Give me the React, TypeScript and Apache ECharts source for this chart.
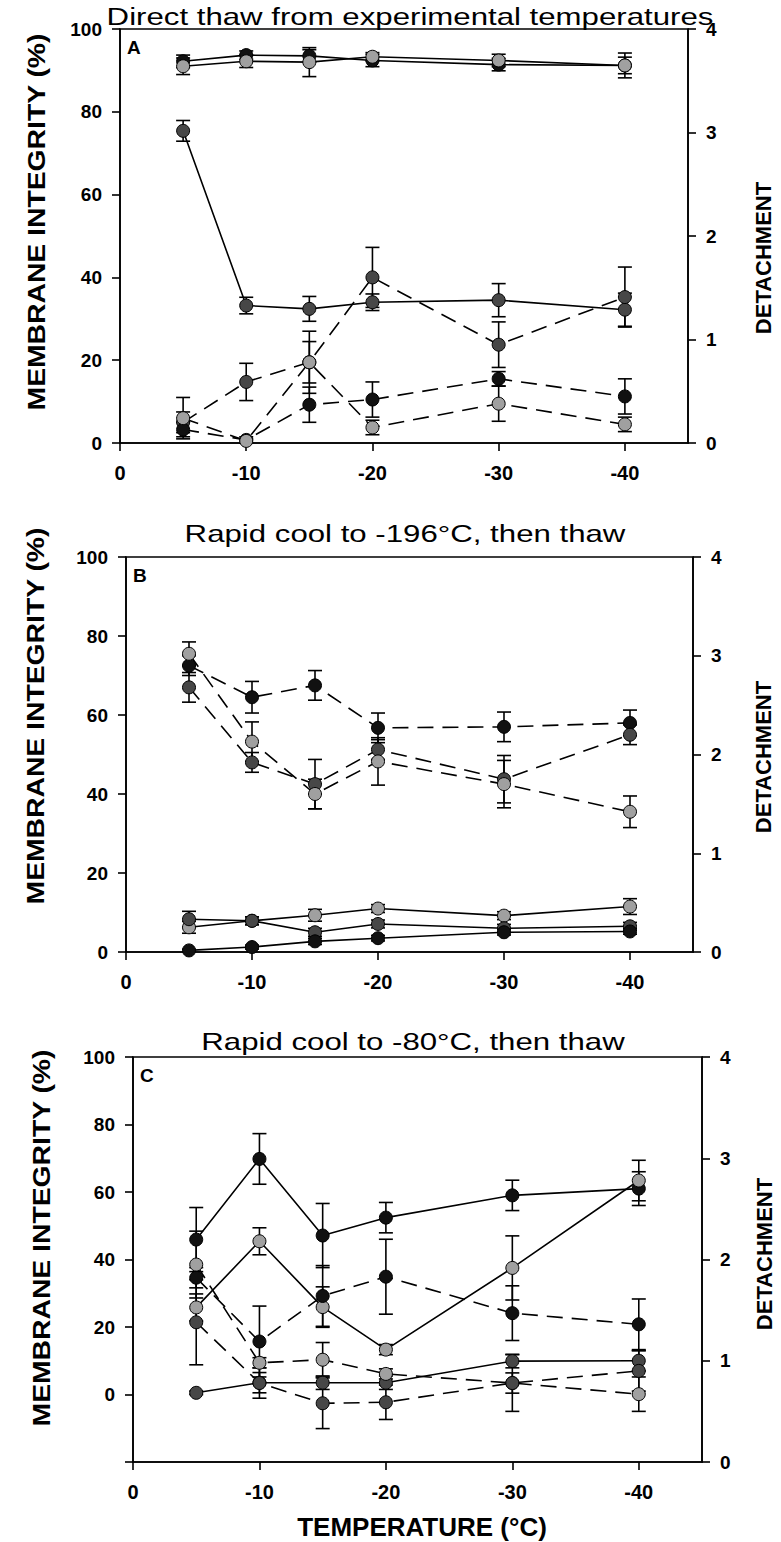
import React, { useEffect, useRef } from "react";
import * as echarts from "echarts";

// ---------- data ----------
const temps = [-5, -10, -15, -20, -30, -40];
const xTicks = [0, -10, -20, -30, -40];

// Panel A – direct thaw from experimental temperatures
const aIntBlack = [92.2, 93.7, 93.5, 92.4, 91.4, 91.2];
const aIntBlackErr = [1.5, 1, 1.5, 1.5, 1.5, 3];
const aIntGrey = [91, 92.2, 92, 93.3, 92.4, 91.2];
const aIntGreyErr = [2, 1.5, 3.5, 1, 1.5, 2];
const aIntDark = [75.4, 33.2, 32.4, 34, 34.5, 32.2];
const aIntDarkErr = [2.5, 2, 3, 2, 4, 4];
const aDetDark = [0.2, 0.59, 0.78, 1.6, 0.95, 1.41];
const aDetDarkErr = [0.1, 0.18, 0.2, 0.29, 0.22, 0.29];
const aDetBlack = [0.13, 0.03, 0.37, 0.42, 0.62, 0.45];
const aDetBlackErr = [0.07, 0.03, 0.17, 0.17, 0.07, 0.17];
const aDetGrey = [0.24, 0.02, 0.78, 0.15, 0.38, 0.18];
const aDetGreyErr = [0.2, 0.02, 0.3, 0.07, 0.17, 0.07];

// Panel B – rapid cool to -196 °C, then thaw
const bIntGrey = [6.25, 7.9, 9.3, 11, 9.2, 11.5];
const bIntGreyErr = [1.5, 1, 1.5, 1, 1, 2];
const bIntDark = [8.3, 7.9, 5, 7.1, 6, 6.5];
const bIntDarkErr = [2, 1, 1, 1, 1, 1];
const bIntBlack = [0.4, 1.25, 2.7, 3.5, 5, 5.2];
const bIntBlackErr = [0.3, 0.5, 0.8, 0.7, 0.7, 0.7];
const bDetBlack = [2.9, 2.58, 2.7, 2.27, 2.28, 2.32];
const bDetBlackErr = [0.1, 0.16, 0.15, 0.15, 0.15, 0.13];
const bDetDark = [2.68, 1.92, 1.7, 2.05, 1.75, 2.2];
const bDetDarkErr = [0.15, 0.1, 0.25, 0.1, 0.24, 0.1];
const bDetGrey = [3.02, 2.13, 1.6, 1.93, 1.7, 1.42];
const bDetGreyErr = [0.12, 0.2, 0.15, 0.24, 0.24, 0.16];

// Panel C – rapid cool to -80 °C, then thaw
const cIntBlack = [45.9, 69.8, 47.1, 52.4, 59, 61];
const cIntBlackErr = [9.5, 7.5, 9.5, 4.5, 4.5, 5];
const cIntGrey = [25.8, 45.4, 25.9, 13.3, 37.5, 63.4];
const cIntGreyErr = [4, 4, 6, 1.5, 9.5, 6];
const cIntDark = [0.5, 3.5, 3.5, 3.5, 9.9, 10];
const cIntDarkErr = [0.5, 3, 2, 2, 2, 3];
const cDetBlack = [1.82, 1.19, 1.64, 1.83, 1.47, 1.36];
const cDetBlackErr = [0.1, 0.35, 0.3, 0.37, 0.27, 0.25];
const cDetGrey = [1.95, 0.98, 1.01, 0.87, 0.78, 0.67];
const cDetGreyErr = [0.33, 0.05, 0.17, 0.05, 0.1, 0.17];
const cDetDark = [1.38, 0.78, 0.58, 0.59, 0.78, 0.9];
const cDetDarkErr = [0.42, 0.15, 0.25, 0.17, 0.28, 0.2];

// ---------- styling ----------
const FONT = '"Liberation Sans", Arial, Helvetica, sans-serif';
const BLACK = "#111111";
const DARK = "#474747";
const GREY = "#a0a0a0";

const GRIDS = [
  { left: 120, width: 568, top: 29, height: 414 },
  { left: 126, width: 567, top: 557, height: 395 },
  { left: 133, width: 569, top: 1057, height: 405 },
];

function lineSeries(ys: number[], xi: number, yi: number, color: string, dashed: boolean) {
  return {
    type: "line",
    xAxisIndex: xi,
    yAxisIndex: yi,
    data: temps.map((t, i) => [t, ys[i]]),
    symbol: "circle",
    symbolSize: 13,
    itemStyle: { color, borderColor: "#000", borderWidth: 1 },
    lineStyle: { color: "#000", width: 1.6, type: dashed ? [16, 9] : "solid" },
    z: 3,
    silent: true,
  };
}

function errSeries(ys: number[], es: number[], xi: number, yi: number) {
  return {
    type: "custom",
    xAxisIndex: xi,
    yAxisIndex: yi,
    data: temps.map((t, i) => [t, ys[i], es[i]]),
    encode: { x: 0, y: 1 },
    z: 2,
    silent: true,
    renderItem: (params: any, api: any) => {
      const x = api.value(0);
      const y = api.value(1);
      const e = api.value(2);
      const p1 = api.coord([x, y + e]);
      const p2 = api.coord([x, y - e]);
      const w = 7;
      const style = { stroke: "#000", lineWidth: 1.6 };
      return {
        type: "group",
        children: [
          { type: "line", shape: { x1: p1[0], y1: p1[1], x2: p2[0], y2: p2[1] }, style },
          { type: "line", shape: { x1: p1[0] - w, y1: p1[1], x2: p1[0] + w, y2: p1[1] }, style },
          { type: "line", shape: { x1: p2[0] - w, y1: p2[1], x2: p2[0] + w, y2: p2[1] }, style },
        ],
      };
    },
  };
}

function both(ys: number[], es: number[], xi: number, yi: number, color: string, dashed: boolean) {
  return [errSeries(ys, es, xi, yi), lineSeries(ys, xi, yi, color, dashed)];
}

const AXIS_LINE = { show: true, onZero: false, lineStyle: { color: "#000", width: 1.6 } };

function xAxis(gi: number) {
  return {
    gridIndex: gi,
    type: "value",
    min: -45,
    max: 0,
    inverse: true,
    axisLine: AXIS_LINE,
    axisTick: { show: true, length: 8, customValues: xTicks, lineStyle: { color: "#000", width: 1.6 } },
    axisLabel: {
      customValues: xTicks,
      color: "#000",
      fontFamily: FONT,
      fontWeight: "bold",
      fontSize: 20,
      margin: 20,
    },
    splitLine: { show: false },
  };
}

function leftAxis(gi: number, min: number) {
  return {
    gridIndex: gi,
    type: "value",
    position: "left",
    min,
    max: 100,
    interval: 20,
    axisLine: AXIS_LINE,
    axisTick: { show: true, length: 8, lineStyle: { color: "#000", width: 1.6 } },
    axisLabel: {
      color: "#000",
      fontFamily: FONT,
      fontWeight: "bold",
      fontSize: 19,
      margin: 18,
      formatter: (v: number) => (v < 0 ? "" : String(v)),
    },
    splitLine: { show: false },
  };
}

function rightAxis(gi: number) {
  return {
    gridIndex: gi,
    type: "value",
    position: "right",
    min: 0,
    max: 4,
    interval: 1,
    axisLine: AXIS_LINE,
    axisTick: { show: true, length: 8, lineStyle: { color: "#000", width: 1.6 } },
    axisLabel: { color: "#000", fontFamily: FONT, fontWeight: "bold", fontSize: 19, margin: 18 },
    splitLine: { show: false },
  };
}

function text(
  str: string,
  x: number,
  y: number,
  size: number,
  bold: boolean,
  opts: { rotation?: number; scaleX?: number; align?: string } = {}
) {
  return {
    type: "text",
    x,
    y,
    rotation: opts.rotation || 0,
    scaleX: opts.scaleX || 1,
    style: {
      text: str,
      x: 0,
      y: 0,
      fill: "#000",
      fontFamily: FONT,
      fontSize: size,
      fontWeight: bold ? "bold" : "normal",
      textAlign: opts.align || "center",
      textVerticalAlign: "middle",
    },
  };
}

const TITLES = [
  { text: "Direct thaw from experimental temperatures", x: 410, y: 17 },
  { text: "Rapid cool to -196°C, then thaw", x: 405, y: 534 },
  { text: "Rapid cool to -80°C, then thaw", x: 413, y: 1042 },
];
const LETTERS = ["A", "B", "C"];
const LEFT_NAME_POS = [
  { x: 37, y: 222 },
  { x: 36, y: 716 },
  { x: 42, y: 1238 },
];
const RIGHT_NAME_POS = [
  { x: 763, y: 258 },
  { x: 763, y: 757 },
  { x: 764, y: 1254 },
];

export default function App() {
  const ref = useRef<HTMLDivElement>(null);

  useEffect(() => {
    if (!ref.current) return;
    document.body.style.margin = "0";
    const chart = echarts.init(ref.current, undefined, { renderer: "svg" });

    const graphics: any[] = [];
    TITLES.forEach((t) => graphics.push(text(t.text, t.x, t.y, 24, false, { scaleX: 1.3 })));
    LETTERS.forEach((l, i) =>
      graphics.push(text(l, GRIDS[i].left + 7, GRIDS[i].top + 18, 19, true, { align: "left" }))
    );
    LEFT_NAME_POS.forEach((p) =>
      graphics.push(text("MEMBRANE INTEGRITY (%)", p.x, p.y, 24, true, { rotation: Math.PI / 2, scaleX: 1.18 }))
    );
    RIGHT_NAME_POS.forEach((p) =>
      graphics.push(text("DETACHMENT", p.x, p.y, 22, true, { rotation: Math.PI / 2 }))
    );
    graphics.push(text("TEMPERATURE (°C)", 422, 1527, 26, true));

    const option = {
      animation: false,
      backgroundColor: "#fff",
      grid: GRIDS.map((g) => ({ ...g, show: true, borderColor: "#000", borderWidth: 1.6, backgroundColor: "transparent" })),
      xAxis: [xAxis(0), xAxis(1), xAxis(2)],
      yAxis: [leftAxis(0, 0), rightAxis(0), leftAxis(1, 0), rightAxis(1), leftAxis(2, -20), rightAxis(2)],
      graphic: graphics,
      series: [
        // Panel A
        ...both(aIntBlack, aIntBlackErr, 0, 0, BLACK, false),
        ...both(aIntGrey, aIntGreyErr, 0, 0, GREY, false),
        ...both(aIntDark, aIntDarkErr, 0, 0, DARK, false),
        ...both(aDetDark, aDetDarkErr, 0, 1, DARK, true),
        ...both(aDetBlack, aDetBlackErr, 0, 1, BLACK, true),
        ...both(aDetGrey, aDetGreyErr, 0, 1, GREY, true),
        // Panel B
        ...both(bIntGrey, bIntGreyErr, 1, 2, GREY, false),
        ...both(bIntDark, bIntDarkErr, 1, 2, DARK, false),
        ...both(bIntBlack, bIntBlackErr, 1, 2, BLACK, false),
        ...both(bDetBlack, bDetBlackErr, 1, 3, BLACK, true),
        ...both(bDetDark, bDetDarkErr, 1, 3, DARK, true),
        ...both(bDetGrey, bDetGreyErr, 1, 3, GREY, true),
        // Panel C
        ...both(cIntBlack, cIntBlackErr, 2, 4, BLACK, false),
        ...both(cIntGrey, cIntGreyErr, 2, 4, GREY, false),
        ...both(cIntDark, cIntDarkErr, 2, 4, DARK, false),
        ...both(cDetBlack, cDetBlackErr, 2, 5, BLACK, true),
        ...both(cDetGrey, cDetGreyErr, 2, 5, GREY, true),
        ...both(cDetDark, cDetDarkErr, 2, 5, DARK, true),
      ],
    };
    chart.setOption(option as any);
    return () => chart.dispose();
  }, []);

  return (
    <div
      ref={ref}
      style={{ position: "absolute", left: 0, top: 0, width: 781, height: 1542, background: "#fff" }}
    />
  );
}
